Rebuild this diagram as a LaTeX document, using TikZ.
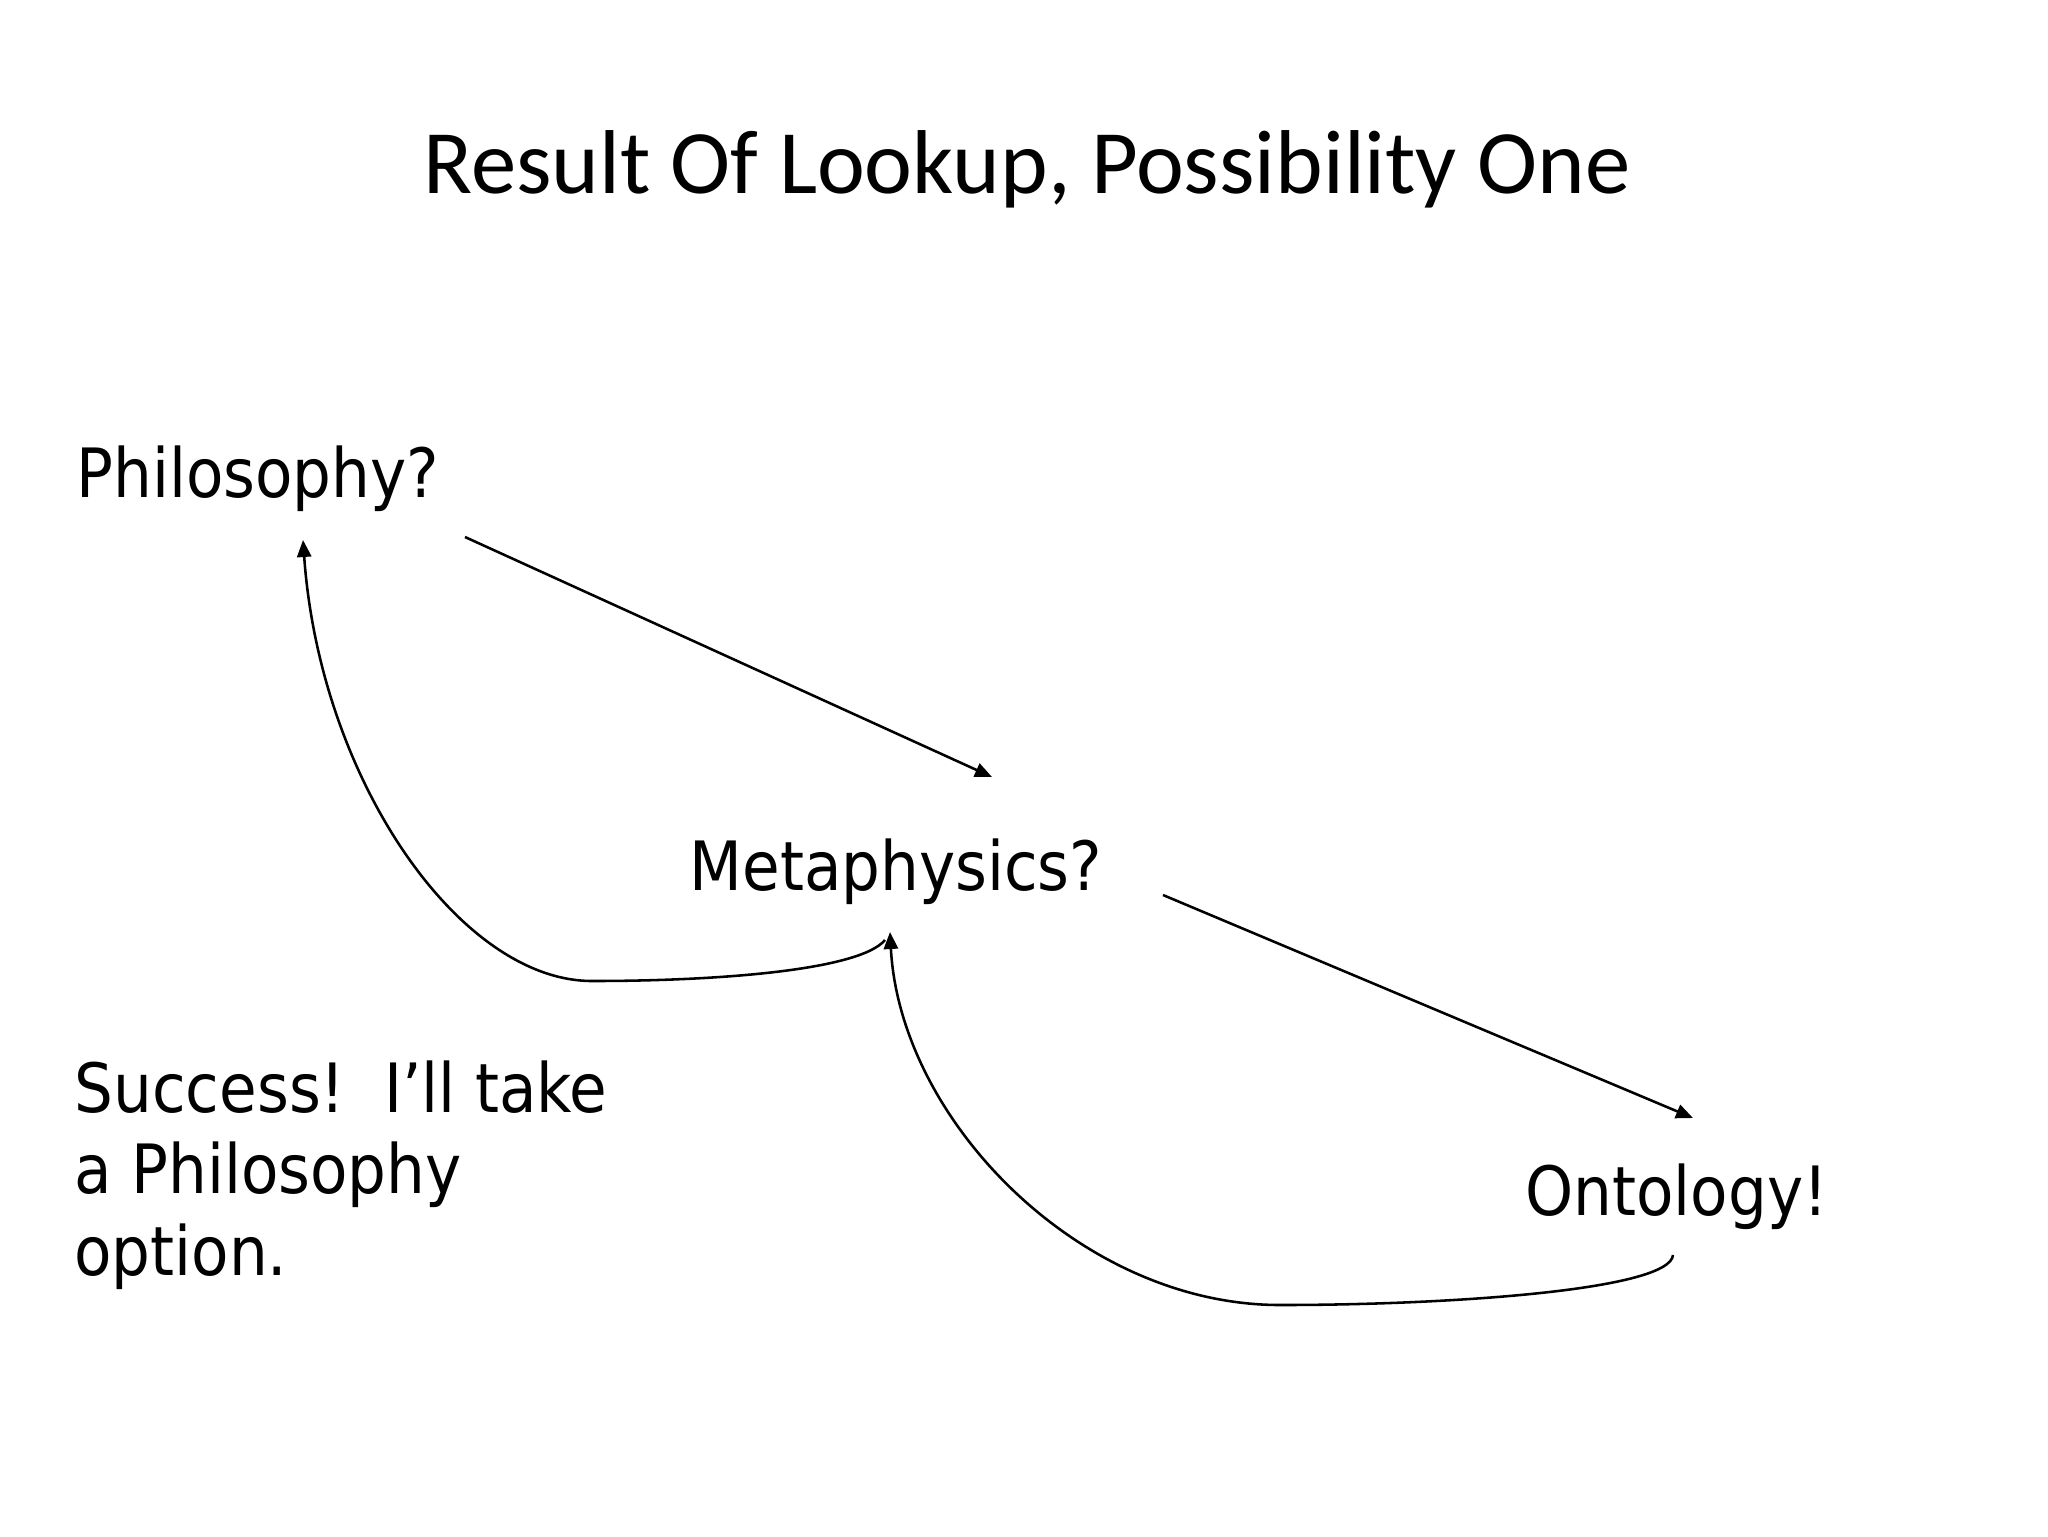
\documentclass[tikz,border=0pt]{standalone}
\usepackage{fontspec}
\setmainfont{DejaVu Sans Condensed}
\newfontfamily\titlefont{Carlito}
\usetikzlibrary{arrows.meta}

\begin{document}
\begin{tikzpicture}[x=0.0124023cm,y=-0.0124023cm,
    word/.style={inner sep=0pt,anchor=base west,font=\fontsize{24}{28.7}\selectfont},
    link/.style={-{Triangle[length=6pt,width=5pt]},line width=0.9pt}]
            \useasboundingbox (0,0) rectangle (2048,1536);
            \node[inner sep=0pt,anchor=base,font=\titlefont\fontsize{32}{38}\selectfont] (title) at (1027,193) {Result Of Lookup, Possibility One};
            \node[word] (phil) at (76,497) {Philosophy?};
            \node[word] (meta) at (689,890) {Metaphysics?};
            \node[word] (onto) at (1525,1215) {Ontology!};
            \node[word,align=left] (note) at (74,1275) {Success!\ \ I’ll take\\a Philosophy\\option.};
            \draw[link] ([shift={(389,40)}]phil.base west) -- ([shift={(303,-113)}]meta.base west);
            \draw[link] ([shift={(474,5)}]meta.base west) -- ([shift={(168,-97)}]onto.base west);
            \draw[link] ([shift={(196,50)}]meta.base west) .. controls (860,970) and (720,981) .. (592,981) .. controls (460,981) and (320,780) .. ([shift={(227,43)}]phil.base west);
            \draw[link] ([shift={(148,40)}]onto.base west) .. controls (1670,1290) and (1450,1305) .. (1280,1305) .. controls (1080,1305) and (900,1120) .. ([shift={(201,42)}]meta.base west);
        \end{tikzpicture}
\end{document}
